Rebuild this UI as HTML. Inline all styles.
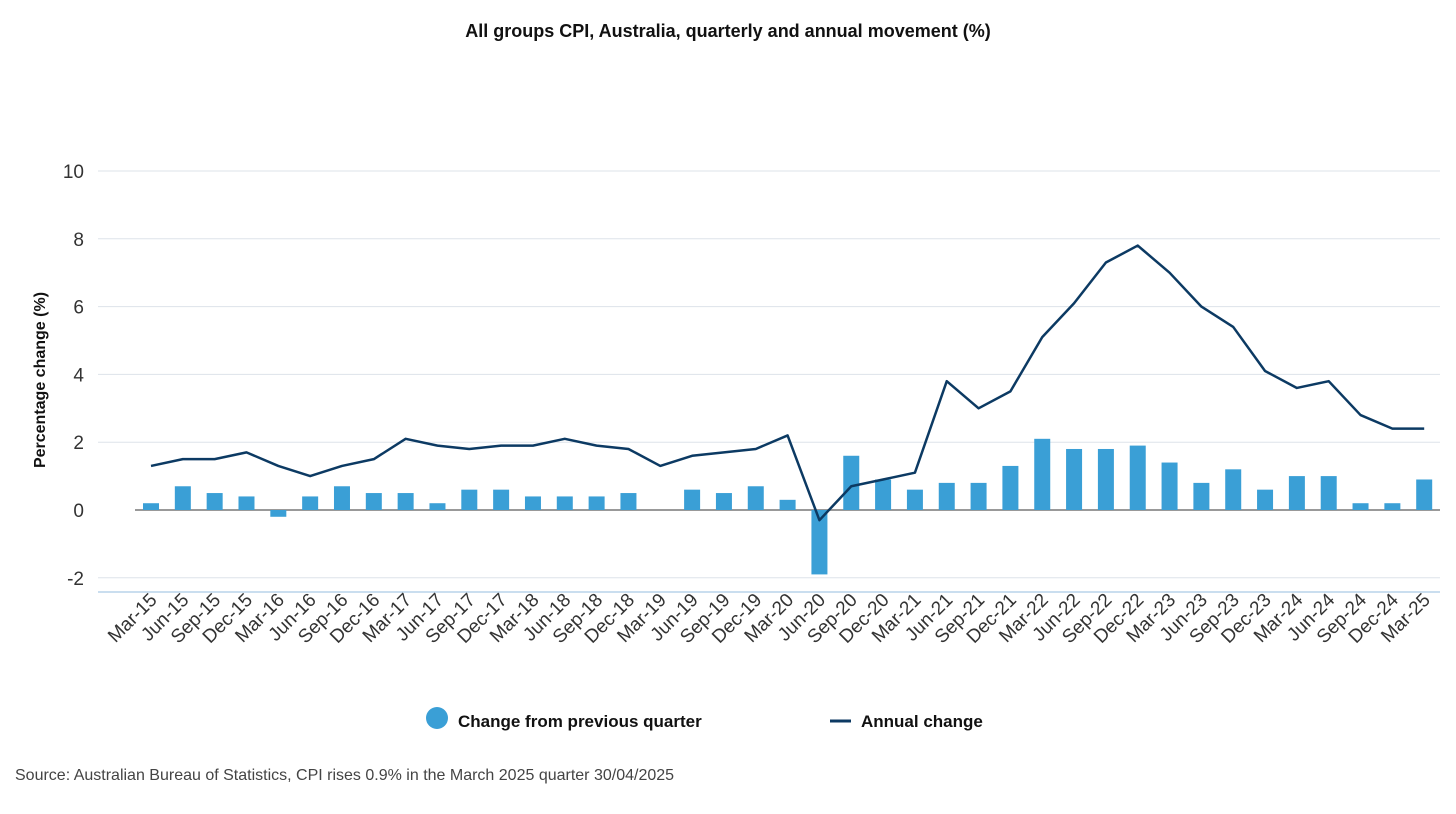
<!DOCTYPE html>
<html><head><meta charset="utf-8"><style>
body{margin:0;background:#fff;font-family:"Liberation Sans",sans-serif;}
svg text{font-family:"Liberation Sans",sans-serif;}
</style></head><body>
<svg id="chart" width="1456" height="809">
<text x="728" y="37" text-anchor="middle" font-size="18" font-weight="bold" fill="#111">All groups CPI, Australia, quarterly and annual movement (%)</text>
<g id="grid"></g><g id="bars"></g><g id="line"></g><g id="xl"></g>
<text transform="translate(45,380) rotate(-90)" text-anchor="middle" font-size="16" font-weight="bold" fill="#111">Percentage change (%)</text>
<g>
<circle cx="437" cy="718" r="11" fill="#3a9fd6"/>
<text x="458" y="727" font-size="17" font-weight="bold" fill="#111">Change from previous quarter</text>
<line x1="830" y1="721" x2="851" y2="721" stroke="#0c3a63" stroke-width="3"/>
<text x="861" y="727" font-size="17" font-weight="bold" fill="#111">Annual change</text>
</g>
<text x="15" y="780" font-size="16" fill="#444">Source: Australian Bureau of Statistics, CPI rises 0.9% in the March 2025 quarter 30/04/2025</text>
</svg>
<script>
const categories=["Mar-15","Jun-15","Sep-15","Dec-15","Mar-16","Jun-16","Sep-16","Dec-16","Mar-17","Jun-17","Sep-17","Dec-17","Mar-18","Jun-18","Sep-18","Dec-18","Mar-19","Jun-19","Sep-19","Dec-19","Mar-20","Jun-20","Sep-20","Dec-20","Mar-21","Jun-21","Sep-21","Dec-21","Mar-22","Jun-22","Sep-22","Dec-22","Mar-23","Jun-23","Sep-23","Dec-23","Mar-24","Jun-24","Sep-24","Dec-24","Mar-25"];
const quarterly=[0.2,0.7,0.5,0.4,-0.2,0.4,0.7,0.5,0.5,0.2,0.6,0.6,0.4,0.4,0.4,0.5,0.0,0.6,0.5,0.7,0.3,-1.9,1.6,0.9,0.6,0.8,0.8,1.3,2.1,1.8,1.8,1.9,1.4,0.8,1.2,0.6,1.0,1.0,0.2,0.2,0.9];
const annual=[1.3,1.5,1.5,1.7,1.3,1.0,1.3,1.5,2.1,1.9,1.8,1.9,1.9,2.1,1.9,1.8,1.3,1.6,1.7,1.8,2.2,-0.3,0.7,0.9,1.1,3.8,3.0,3.5,5.1,6.1,7.3,7.8,7.0,6.0,5.4,4.1,3.6,3.8,2.8,2.4,2.4];
const yTicks=[-2,0,2,4,6,8,10];
const NS="http://www.w3.org/2000/svg";
const y=v=>510-v*33.9;
const x=i=>151+i*31.83;
function mk(t,a,p){const e=document.createElementNS(NS,t);for(const k in a)e.setAttribute(k,a[k]);p.appendChild(e);return e;}
const grid=document.getElementById('grid');
yTicks.forEach(v=>{
 if(v!==0){const l=mk('line',{x1:98,x2:1440,y1:y(v),y2:y(v),stroke:'#dde3ea','stroke-width':1},grid);
 
 }
 const t=mk('text',{x:84,y:y(v)+7,'text-anchor':'end','font-size':19,fill:'#333'},grid);t.textContent=v;
 
 
});
const ax=mk('line',{x1:98,x2:1440,y1:592,y2:592,stroke:'#b9d3ea','stroke-width':1.5},grid);


const z=mk('line',{x1:135,x2:1440,y1:y(0),y2:y(0),stroke:'#999','stroke-width':2},grid);


const bars=document.getElementById('bars');
quarterly.forEach((v,i)=>{
 const r=mk('rect',{x:x(i)-8,width:16,y:Math.min(y(v),y(0)),height:Math.abs(y(v)-y(0)),fill:'#3a9fd6'},bars);
 
 
});
const pl=mk('polyline',{points:annual.map((v,i)=>x(i)+','+y(v)).join(' '),fill:'none',stroke:'#0c3a63','stroke-width':2.5,'stroke-linejoin':'round'},document.getElementById('line'));


const xl=document.getElementById('xl');
categories.forEach((c,i)=>{
 const t=mk('text',{transform:`translate(${x(i)+7},${601}) rotate(-45)`,'text-anchor':'end','font-size':19,fill:'#333'},xl);t.textContent=c;
 
 
});
</script>
</body></html>
